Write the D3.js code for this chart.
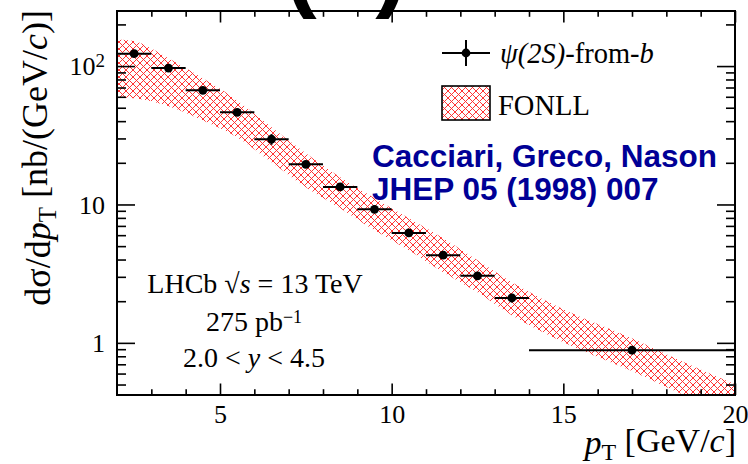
<!DOCTYPE html>
<html>
<head>
<meta charset="utf-8">
<script src="https://cdn.jsdelivr.net/npm/d3@7"></script>
<style>
  body { margin: 0; background: #fff; }
  svg { display: block; }
  .serif { font-family: "Liberation Serif", "Times New Roman", serif; }
</style>
</head>
<body>
<script>
// psi(2S)-from-b differential cross-section, pT bins [GeV/c]
const binLo = [2, 3, 4, 5, 6, 7, 8, 9, 10, 11, 12, 13, 14];
const binHi = [3, 4, 5, 6, 7, 8, 9, 10, 11, 12, 13, 14, 20];
const xsec = [122.9, 96.7, 66.8, 46.3, 29.6, 19.5, 13.4, 9.23, 6.23, 4.30, 3.05, 2.11, 0.886];
const xsecErr = [6, 4.5, 3, 2, 2.6, 1.1, 0.8, 0.55, 0.4, 0.26, 0.2, 0.15, 0.06];

// FONLL prediction band (upper / lower edges)
const fonllPt = [2, 2.5, 3, 3.5, 4.5, 5.5, 6.5, 7.5, 8.5, 9.5, 10.5, 11.5, 12.5, 13.5, 15, 17, 18, 20];
const fonllHi = [155.9, 152, 134.2, 113.7, 81.5, 56.5, 36.1, 23.4, 15.7, 11.1, 7.95, 5.70, 3.95, 2.74, 1.751, 1.081, 0.829, 0.503];
const fonllLo = [59.4, 58.5, 55.6, 51.2, 40.5, 30.6, 20.2, 13.3, 9.39, 6.51, 4.67, 3.24, 2.32, 1.585, 1.012, 0.625, 0.479, 0.291];

// axis ticks
const xTicks = [5, 10, 15, 20];
const yTicks = [1, 10, 100];

const W = 748, H = 464;
const svg = d3.select("body").append("svg").attr("width", W).attr("height", H);

const x = d3.scaleLinear().domain([2, 20]).range([117, 735]);
const y = d3.scaleLog().domain([0.42, 250]).range([395, 11]);
const [x0, x1] = x.range();
const [y0, y1] = [y.range()[1], y.range()[0]]; // top, bottom

const defs = svg.append("defs");
const hatch = defs.append("pattern")
  .attr("id", "hatch").attr("patternUnits", "userSpaceOnUse")
  .attr("width", 7).attr("height", 7);
hatch.append("path")
  .attr("d", "M0,0L7,7M0,7L7,0M-1,1L1,-1M6,8L8,6M-1,6L1,8M6,-1L8,1")
  .attr("stroke", "#ff2a2a").attr("stroke-width", 0.95).attr("fill", "none");

defs.append("clipPath").attr("id", "plotClip")
  .append("rect").attr("x", x0).attr("y", y0).attr("width", x1 - x0).attr("height", y1 - y0);

// panel label above the frame (only its lower edge fits on the page)
svg.append("text")
  .attr("x", 346).attr("y", -1)
  .attr("text-anchor", "middle")
  .style("font-family", "'Liberation Sans', Arial, sans-serif")
  .style("font-weight", "bold").style("font-size", "96px")
  .text("(b)");

// FONLL band
const band = fonllPt.map((p, i) => ({ p, hi: fonllHi[i], lo: fonllLo[i] }));
svg.append("path")
  .datum(band)
  .attr("clip-path", "url(#plotClip)")
  .attr("fill", "url(#hatch)")
  .attr("d", d3.area()
    .x(d => x(d.p))
    .y0(d => y(d.lo))
    .y1(d => y(d.hi))
    .curve(d3.curveMonotoneX));

// ticks on all four sides (pointing inward)
const xMinor = d3.range(3, 20).filter(v => v % 5 !== 0);
const yMinor = [];
[0.1, 1, 10, 100].forEach(dec => d3.range(2, 10).forEach(k => {
  const v = k * dec;
  if (v > y.domain()[0] && v < y.domain()[1]) yMinor.push(v);
}));

function tickGroup(axis, tx, ty) {
  const g = svg.append("g").attr("transform", `translate(${tx},${ty})`).call(axis);
  g.select(".domain").remove();
  g.selectAll(".tick line").attr("stroke", "#000").attr("stroke-width", 1.6);
  return g;
}
const majX = 11.5, minX = 5.8, majY = 18, minY = 9;

tickGroup(d3.axisBottom(x).tickValues(xMinor).tickSize(-minX).tickFormat(""), 0, y1);
tickGroup(d3.axisTop(x).tickValues(xMinor).tickSize(-minX).tickFormat(""), 0, y0);
tickGroup(d3.axisTop(x).tickValues(xTicks).tickSize(-majX).tickFormat(""), 0, y0);
tickGroup(d3.axisLeft(y).tickValues(yMinor).tickSize(-minY).tickFormat(""), x0, 0);
tickGroup(d3.axisRight(y).tickValues(yMinor).tickSize(-minY).tickFormat(""), x1, 0);
tickGroup(d3.axisRight(y).tickValues(yTicks).tickSize(-majY).tickFormat(""), x1, 0);

const gx = tickGroup(d3.axisBottom(x).tickValues(xTicks).tickSize(-majX).tickPadding(9.5).tickFormat(d3.format("d")), 0, y1);
gx.selectAll("text").attr("class", "serif").style("font-size", "26px").attr("fill", "#000");

const gy = tickGroup(d3.axisLeft(y).tickValues(yTicks).tickSize(-majY).tickPadding(12).tickFormat(""), x0, 0);
gy.selectAll(".tick text").each(function (d) {
  const t = d3.select(this).attr("class", "serif").style("font-size", "26px")
    .attr("fill", "#000").attr("dy", "0.34em");
  const e = Math.round(Math.log10(d));
  if (e >= 2) {
    t.append("tspan").text("10");
    t.append("tspan").attr("dy", "-0.45em").style("font-size", "19px").text(e);
  } else {
    t.text(d3.format("d")(d));
  }
});

// frame
svg.append("rect").attr("x", x0).attr("y", y0).attr("width", x1 - x0).attr("height", y1 - y0)
  .attr("fill", "none").attr("stroke", "#000").attr("stroke-width", 2);

// data points with error bars
const pts = xsec.map((v, i) => ({ lo: binLo[i], hi: binHi[i], v, e: xsecErr[i] }));
const gp = svg.append("g").attr("clip-path", "url(#plotClip)");
gp.selectAll("line.h").data(pts).join("line").attr("class", "h")
  .attr("x1", d => x(d.lo)).attr("x2", d => x(d.hi))
  .attr("y1", d => y(d.v)).attr("y2", d => y(d.v))
  .attr("stroke", "#000").attr("stroke-width", 2);
gp.selectAll("line.v").data(pts).join("line").attr("class", "v")
  .attr("x1", d => x((d.lo + d.hi) / 2)).attr("x2", d => x((d.lo + d.hi) / 2))
  .attr("y1", d => y(d.v - d.e)).attr("y2", d => y(d.v + d.e))
  .attr("stroke", "#000").attr("stroke-width", 2);
gp.selectAll("circle").data(pts).join("circle")
  .attr("cx", d => x((d.lo + d.hi) / 2)).attr("cy", d => y(d.v))
  .attr("r", 4.4).attr("fill", "#000");

// legend
const lg = svg.append("g");
lg.append("line").attr("x1", 442).attr("x2", 490).attr("y1", 53).attr("y2", 53)
  .attr("stroke", "#000").attr("stroke-width", 2);
lg.append("line").attr("x1", 466).attr("x2", 466).attr("y1", 40).attr("y2", 66)
  .attr("stroke", "#000").attr("stroke-width", 2);
lg.append("circle").attr("cx", 466).attr("cy", 53).attr("r", 4.4).attr("fill", "#000");
const l1 = lg.append("text").attr("class", "serif").attr("x", 500).attr("y", 63).style("font-size", "28.5px");
l1.append("tspan").style("font-style", "italic").text("ψ(2S)");
l1.append("tspan").text("-from-");
l1.append("tspan").style("font-style", "italic").text("b");

lg.append("rect").attr("x", 442).attr("y", 86).attr("width", 48).attr("height", 34)
  .attr("fill", "url(#hatch)").attr("stroke", "#000").attr("stroke-width", 1.6);
lg.append("text").attr("class", "serif").attr("x", 498).attr("y", 115).style("font-size", "28.5px").text("FONLL");

// reference note
const note = svg.append("g")
  .style("font-family", "'Liberation Sans', Arial, sans-serif")
  .style("font-weight", "bold").style("font-size", "31.5px").attr("fill", "#000096");
note.append("text").attr("x", 372).attr("y", 167).text("Cacciari, Greco, Nason");
note.append("text").attr("x", 372).attr("y", 200).text("JHEP 05 (1998) 007");

// experiment info
const info = svg.append("g").attr("class", "serif").style("font-size", "28px").attr("text-anchor", "middle");
const i1 = info.append("text").attr("x", 255).attr("y", 293);
i1.append("tspan").text("LHCb  √");
i1.append("tspan").style("font-style", "italic").text("s");
i1.append("tspan").text(" = 13 TeV");
const i2 = info.append("text").attr("x", 254).attr("y", 331);
i2.append("tspan").text("275 pb");
i2.append("tspan").attr("dy", "-0.45em").style("font-size", "18px").text("−1");
const i3 = info.append("text").attr("x", 254).attr("y", 367);
i3.append("tspan").text("2.0 < ");
i3.append("tspan").style("font-style", "italic").text("y");
i3.append("tspan").text(" < 4.5");

// axis titles
const xt = svg.append("text").attr("class", "serif").attr("x", 736).attr("y", 454)
  .attr("text-anchor", "end").style("font-size", "34px");
xt.append("tspan").style("font-style", "italic").text("p");
xt.append("tspan").attr("dy", "0.25em").style("font-size", "24px").text("T");
xt.append("tspan").attr("dy", "-0.25em").text(" [GeV/");
xt.append("tspan").style("font-style", "italic").text("c");
xt.append("tspan").text("]");

const yt = svg.append("text").attr("class", "serif")
  .attr("transform", "translate(50,10) rotate(-90)")
  .attr("text-anchor", "end").style("font-size", "36px");
yt.append("tspan").text("dσ/d");
yt.append("tspan").style("font-style", "italic").text("p");
yt.append("tspan").attr("dy", "0.25em").style("font-size", "25px").text("T");
yt.append("tspan").attr("dy", "-0.25em").text(" [nb/(GeV/");
yt.append("tspan").style("font-style", "italic").text("c");
yt.append("tspan").text(")]");
</script>
</body>
</html>
